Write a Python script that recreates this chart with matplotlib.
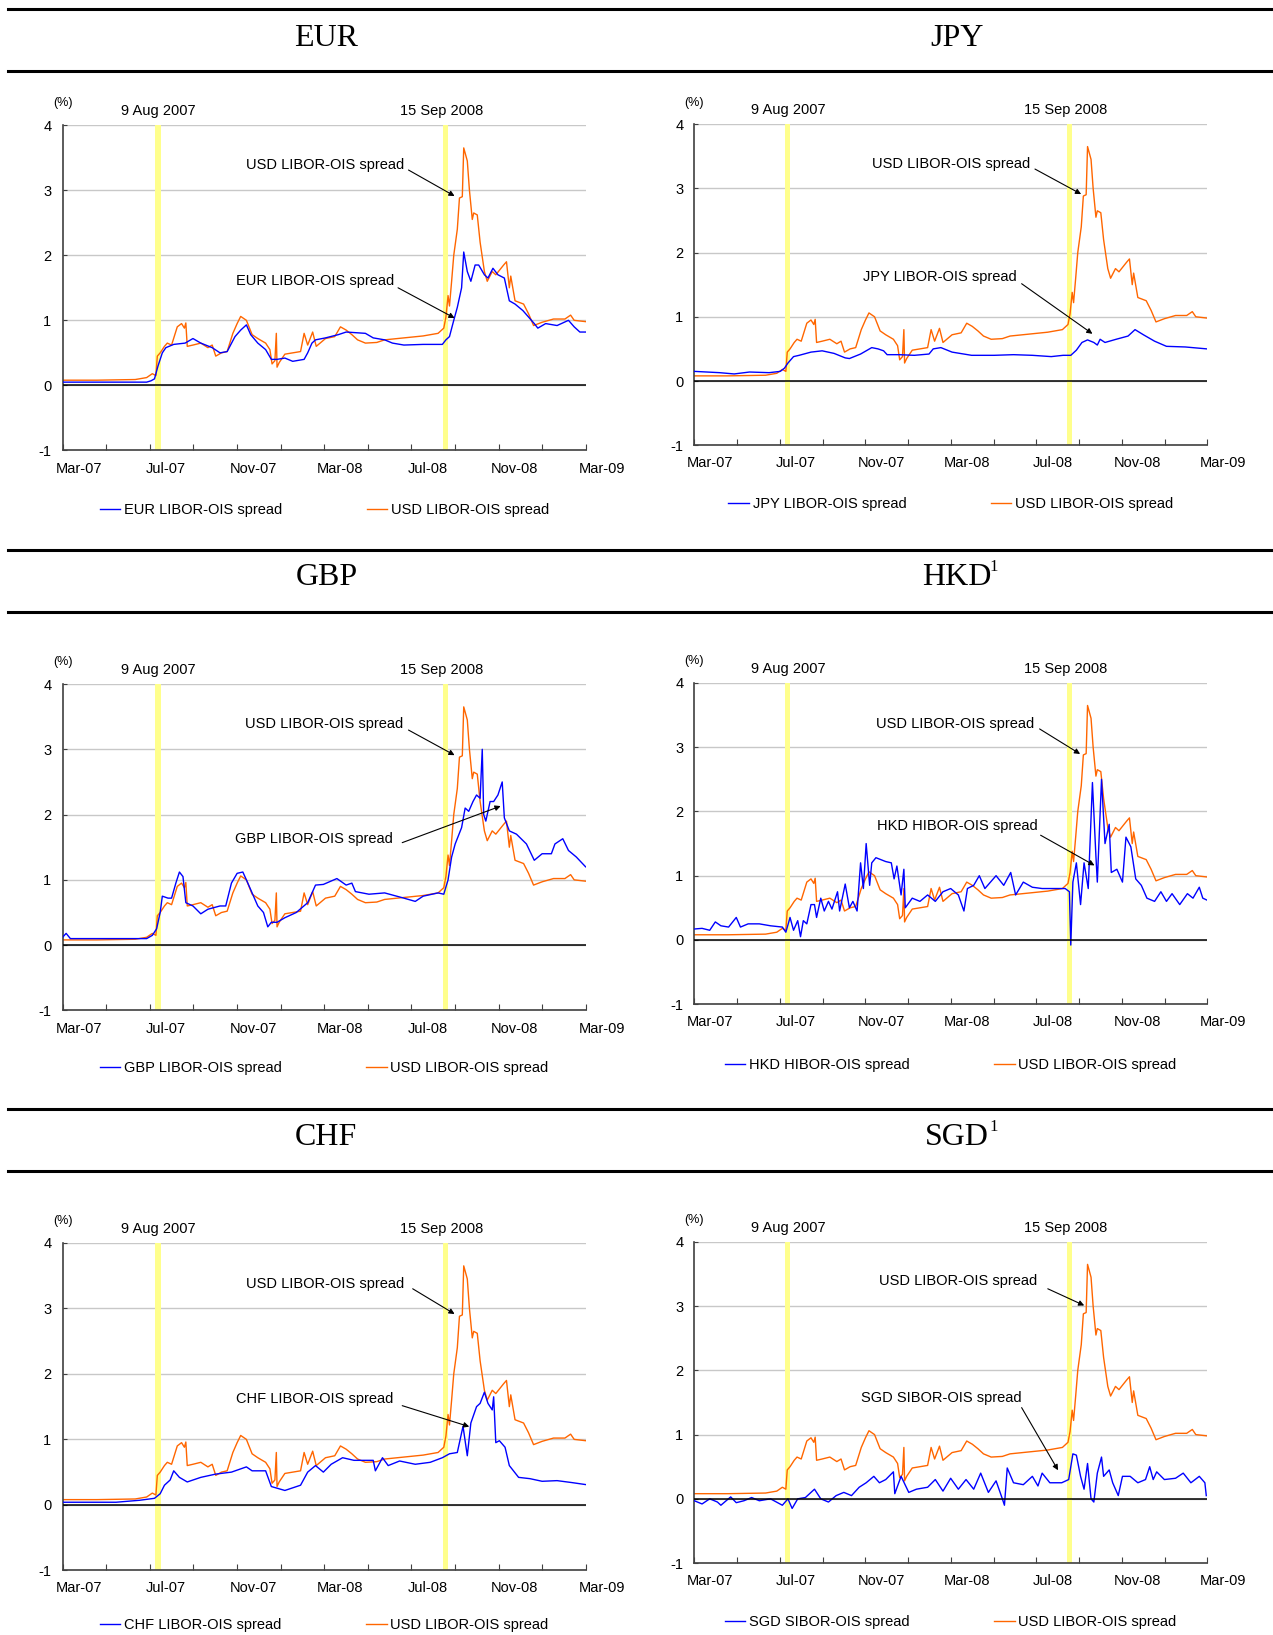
import matplotlib
matplotlib.use("Agg")
import matplotlib.pyplot as plt
import matplotlib.dates as mdates
import matplotlib.transforms as mtransforms
from matplotlib.lines import Line2D
import pandas as pd
import numpy as np

plt.rcParams['font.family'] = ['Liberation Sans', 'DejaVu Sans']

# ---------------- data ----------------
usd_dates = ["2007-03-28","2007-05-15","2007-07-08","2007-07-24","2007-08-01","2007-08-06","2007-08-08","2007-08-12",
             "2007-08-18","2007-08-22","2007-08-28","2007-09-05","2007-09-11","2007-09-15","2007-09-17","2007-09-19",
             "2007-09-27","2007-10-08","2007-10-18","2007-10-24","2007-10-29","2007-11-06","2007-11-14","2007-11-22",
             "2007-11-28","2007-12-03","2007-12-11","2007-12-19","2007-12-27","2008-01-07","2008-01-13","2008-01-16",
             "2008-01-20","2008-01-22","2008-01-23","2008-01-26","2008-02-03","2008-02-14","2008-02-25","2008-03-01",
             "2008-03-06","2008-03-13","2008-03-18","2008-03-31","2008-04-13","2008-04-21","2008-04-29","2008-05-07",
             "2008-05-15","2008-05-26","2008-06-11","2008-06-22","2008-07-19","2008-08-15","2008-09-05","2008-09-13",
             "2008-09-16","2008-09-19","2008-09-21","2008-09-24","2008-09-27","2008-10-02","2008-10-05","2008-10-09",
             "2008-10-11","2008-10-16","2008-10-19","2008-10-23","2008-10-25","2008-10-30","2008-11-03","2008-11-09",
             "2008-11-13","2008-11-20","2008-11-25","2008-12-06","2008-12-10","2008-12-14","2008-12-16","2008-12-22",
             "2009-01-03","2009-01-10","2009-01-17","2009-01-29","2009-02-14","2009-03-02","2009-03-10","2009-03-15",
             "2009-03-31"]
usd_vals = [0.08,0.08,0.09,0.12,0.18,0.15,0.45,0.50,
            0.60,0.65,0.62,0.90,0.95,0.88,0.96,0.60,
            0.62,0.65,0.58,0.62,0.45,0.50,0.52,0.80,
            0.95,1.06,1.00,0.78,0.72,0.65,0.55,0.33,
            0.38,0.80,0.28,0.35,0.48,0.50,0.52,0.80,
            0.62,0.82,0.60,0.72,0.75,0.90,0.85,0.78,
            0.70,0.65,0.66,0.70,0.73,0.76,0.80,0.88,
            1.05,1.38,1.22,1.60,2.00,2.40,2.88,2.90,
            3.65,3.45,3.00,2.55,2.65,2.62,2.20,1.75,
            1.60,1.75,1.70,1.85,1.90,1.50,1.68,1.30,
            1.25,1.10,0.92,0.97,1.02,1.02,1.08,1.00,
            0.98]

eur_dates = ["2007-03-28","2007-07-24","2007-07-30","2007-08-04","2007-08-09","2007-08-15","2007-08-20","2007-08-31",
             "2007-09-16","2007-09-27","2007-10-08","2007-10-24","2007-11-04","2007-11-14","2007-11-25","2007-12-03",
             "2007-12-11","2007-12-17","2007-12-27","2008-01-07","2008-01-15","2008-01-23","2008-02-03","2008-02-14",
             "2008-03-01","2008-03-06","2008-03-12","2008-03-17","2008-03-31","2008-04-18","2008-04-29","2008-05-26",
             "2008-06-06","2008-06-22","2008-07-03","2008-07-19","2008-08-15","2008-09-11","2008-09-16","2008-09-21",
             "2008-09-27","2008-10-02","2008-10-08","2008-10-11","2008-10-16","2008-10-21","2008-10-27","2008-11-01",
             "2008-11-09","2008-11-14","2008-11-21","2008-11-28","2008-12-07","2008-12-14","2008-12-22","2009-01-02",
             "2009-01-10","2009-01-18","2009-01-23","2009-02-03","2009-02-19","2009-03-07","2009-03-15","2009-03-23",
             "2009-03-31"]
eur_vals = [0.05,0.05,0.07,0.10,0.30,0.50,0.58,0.63,
            0.65,0.72,0.65,0.58,0.50,0.52,0.75,0.85,
            0.93,0.78,0.65,0.55,0.40,0.40,0.42,0.37,
            0.40,0.50,0.65,0.70,0.73,0.78,0.82,0.80,
            0.73,0.70,0.65,0.62,0.63,0.63,0.70,0.75,
            1.00,1.20,1.50,2.05,1.75,1.60,1.85,1.85,
            1.70,1.65,1.80,1.70,1.65,1.30,1.25,1.15,
            1.05,0.95,0.88,0.95,0.92,1.00,0.90,0.82,
            0.82]

jpy_dates = ["2007-03-28","2007-05-03","2007-05-24","2007-06-15","2007-07-13","2007-07-29","2007-08-04","2007-08-09",
             "2007-08-17","2007-08-25","2007-09-11","2007-09-27","2007-10-14","2007-10-30","2007-11-05","2007-11-21",
             "2007-12-07","2007-12-16","2007-12-24","2007-12-29","2008-01-15","2008-02-06","2008-02-27","2008-03-04",
             "2008-03-15","2008-03-31","2008-04-28","2008-05-30","2008-06-27","2008-07-24","2008-08-20","2008-09-06",
             "2008-09-17","2008-09-25","2008-10-03","2008-10-11","2008-10-20","2008-10-25","2008-10-29","2008-11-05",
             "2008-11-21","2008-12-08","2008-12-18","2008-12-30","2009-01-15","2009-02-01","2009-02-28","2009-03-31"]
jpy_vals = [0.15,0.13,0.11,0.14,0.13,0.15,0.20,0.28,
            0.38,0.40,0.45,0.47,0.43,0.36,0.35,0.42,
            0.52,0.50,0.47,0.41,0.41,0.40,0.42,0.50,
            0.52,0.45,0.40,0.40,0.41,0.40,0.38,0.40,
            0.40,0.48,0.60,0.64,0.60,0.56,0.65,0.60,
            0.65,0.70,0.80,0.72,0.62,0.54,0.53,0.50]

gbp_dates = ["2007-03-28","2007-04-02","2007-04-08","2007-06-11","2007-07-24","2007-08-01","2007-08-07","2007-08-12",
             "2007-08-15","2007-08-23","2007-08-28","2007-09-03","2007-09-08","2007-09-13","2007-09-17","2007-09-27",
             "2007-10-08","2007-10-18","2007-11-04","2007-11-12","2007-11-20","2007-11-28","2007-12-06","2007-12-11",
             "2007-12-19","2007-12-27","2008-01-04","2008-01-10","2008-01-15","2008-01-23","2008-02-03","2008-02-19",
             "2008-03-06","2008-03-17","2008-03-28","2008-04-16","2008-04-29","2008-05-07","2008-05-12","2008-05-31",
             "2008-06-22","2008-07-19","2008-08-04","2008-08-15","2008-09-05","2008-09-13","2008-09-19","2008-09-24",
             "2008-09-29","2008-10-08","2008-10-13","2008-10-18","2008-10-24","2008-10-29","2008-11-03","2008-11-06",
             "2008-11-08","2008-11-11","2008-11-17","2008-11-22","2008-11-28","2008-12-04","2008-12-07","2008-12-14",
             "2008-12-24","2009-01-07","2009-01-18","2009-01-29","2009-02-11","2009-02-16","2009-02-27","2009-03-07",
             "2009-03-18","2009-03-31"]
gbp_vals = [0.12,0.18,0.10,0.10,0.10,0.15,0.25,0.50,
            0.75,0.72,0.72,0.95,1.12,1.05,0.65,0.60,
            0.48,0.55,0.60,0.60,0.95,1.10,1.12,1.00,
            0.80,0.60,0.50,0.28,0.35,0.35,0.42,0.50,
            0.65,0.92,0.93,1.02,0.92,0.95,0.82,0.78,
            0.80,0.72,0.67,0.75,0.80,0.78,1.00,1.35,
            1.55,1.80,2.10,2.05,2.20,2.30,2.25,3.00,
            2.00,1.90,2.20,2.20,2.30,2.50,1.95,1.75,
            1.70,1.55,1.30,1.40,1.40,1.55,1.63,1.45,
            1.35,1.20]

hkd_dates = ["2007-03-28","2007-04-08","2007-04-19","2007-04-27","2007-05-05","2007-05-16","2007-05-27","2007-06-02",
             "2007-06-13","2007-06-29","2007-07-15","2007-08-01","2007-08-06","2007-08-12","2007-08-17","2007-08-23",
             "2007-08-27","2007-08-31","2007-09-05","2007-09-11","2007-09-16","2007-09-19","2007-09-25","2007-09-30",
             "2007-10-06","2007-10-11","2007-10-19","2007-10-22","2007-10-30","2007-11-05","2007-11-10","2007-11-16",
             "2007-11-21","2007-11-25","2007-11-29","2007-12-04","2007-12-07","2007-12-13","2007-12-27","2008-01-04",
             "2008-01-08","2008-01-12","2008-01-18","2008-01-22","2008-01-24","2008-02-03","2008-02-14","2008-02-25",
             "2008-03-07","2008-03-18","2008-03-29","2008-04-09","2008-04-17","2008-04-22","2008-05-01","2008-05-09",
             "2008-05-17","2008-06-02","2008-06-13","2008-06-23","2008-06-30","2008-07-11","2008-07-24","2008-08-07",
             "2008-08-23","2008-09-09","2008-09-15","2008-09-17","2008-09-20","2008-09-25","2008-10-01","2008-10-06",
             "2008-10-12","2008-10-18","2008-10-23","2008-10-25","2008-10-31","2008-11-05","2008-11-11","2008-11-14",
             "2008-11-22","2008-11-30","2008-12-05","2008-12-12","2008-12-19","2008-12-27","2009-01-04","2009-01-15",
             "2009-01-24","2009-02-01","2009-02-09","2009-02-20","2009-03-03","2009-03-11","2009-03-20","2009-03-25",
             "2009-03-31"]
hkd_vals = [0.17,0.18,0.15,0.28,0.22,0.20,0.35,0.20,
            0.25,0.25,0.22,0.20,0.12,0.35,0.15,0.30,
            0.05,0.30,0.25,0.55,0.55,0.35,0.65,0.45,
            0.60,0.48,0.75,0.45,0.87,0.50,0.60,0.45,
            1.20,0.80,1.50,0.85,1.20,1.28,1.22,1.20,
            0.95,1.15,0.70,1.10,0.50,0.65,0.60,0.70,
            0.60,0.75,0.80,0.70,0.45,0.80,0.85,1.00,
            0.80,1.00,0.85,1.05,0.70,0.90,0.82,0.80,
            0.80,0.80,0.75,-0.08,0.90,1.20,0.55,1.20,
            0.80,2.45,1.30,0.90,2.50,1.50,1.80,1.05,
            1.10,0.90,1.60,1.45,0.95,0.85,0.65,0.60,
            0.75,0.60,0.72,0.55,0.72,0.65,0.82,0.65,
            0.62]

chf_dates = ["2007-03-28","2007-06-11","2007-07-14","2007-08-04","2007-08-12","2007-08-18","2007-08-26","2007-08-31",
             "2007-09-08","2007-09-19","2007-10-08","2007-10-29","2007-11-20","2007-12-11","2007-12-19","2008-01-07",
             "2008-01-15","2008-02-03","2008-02-25","2008-03-06","2008-03-17","2008-03-28","2008-04-08","2008-04-24",
             "2008-05-10","2008-06-06","2008-06-09","2008-06-19","2008-06-27","2008-07-13","2008-08-04","2008-08-25",
             "2008-09-11","2008-09-21","2008-10-02","2008-10-10","2008-10-16","2008-10-21","2008-10-29","2008-11-03",
             "2008-11-09","2008-11-14","2008-11-20","2008-11-22","2008-11-25","2008-11-30","2008-12-08","2008-12-14",
             "2008-12-27","2009-01-12","2009-01-29","2009-02-19","2009-03-12","2009-03-31"]
chf_vals = [0.04,0.04,0.07,0.10,0.17,0.30,0.38,0.52,
            0.42,0.35,0.42,0.47,0.50,0.58,0.52,0.52,
            0.28,0.22,0.30,0.50,0.60,0.50,0.62,0.72,
            0.68,0.68,0.52,0.72,0.60,0.67,0.62,0.65,
            0.72,0.78,0.80,1.20,0.75,1.25,1.50,1.55,
            1.72,1.55,1.45,1.65,0.95,0.98,0.88,0.60,
            0.42,0.40,0.36,0.37,0.34,0.31]

sgd_dates = ["2007-03-28","2007-04-08","2007-04-19","2007-04-30","2007-05-05","2007-05-19","2007-05-27","2007-06-07",
             "2007-06-18","2007-06-29","2007-07-15","2007-08-01","2007-08-09","2007-08-15","2007-08-23","2007-09-03",
             "2007-09-16","2007-09-25","2007-10-06","2007-10-17","2007-10-28","2007-11-08","2007-11-19","2007-11-29",
             "2007-12-10","2007-12-18","2007-12-27","2008-01-07","2008-01-09","2008-01-18","2008-01-29","2008-02-09",
             "2008-02-25","2008-03-07","2008-03-18","2008-03-29","2008-04-09","2008-04-20","2008-05-01","2008-05-11",
             "2008-05-22","2008-06-02","2008-06-11","2008-06-14","2008-06-18","2008-06-27","2008-07-11","2008-07-24",
             "2008-08-01","2008-08-07","2008-08-18","2008-09-04","2008-09-14","2008-09-20","2008-09-25","2008-10-01",
             "2008-10-06","2008-10-11","2008-10-16","2008-10-20","2008-10-25","2008-10-31","2008-11-03","2008-11-11",
             "2008-11-16","2008-11-24","2008-11-30","2008-12-11","2008-12-22","2009-01-02","2009-01-08","2009-01-13",
             "2009-01-18","2009-01-29","2009-02-14","2009-02-25","2009-03-08","2009-03-20","2009-03-28","2009-03-30"]
sgd_vals = [-0.03,-0.08,0.00,-0.05,-0.10,0.03,-0.06,-0.03,
            0.02,-0.03,0.00,-0.10,0.00,-0.15,0.00,0.02,
            0.15,0.00,-0.05,0.05,0.10,0.05,0.18,0.25,
            0.35,0.25,0.30,0.42,0.08,0.35,0.10,0.15,
            0.18,0.30,0.12,0.32,0.15,0.30,0.15,0.40,
            0.10,0.28,0.00,-0.10,0.48,0.25,0.22,0.35,
            0.20,0.40,0.25,0.25,0.30,0.70,0.68,0.35,
            0.15,0.55,0.00,-0.05,0.40,0.65,0.35,0.45,
            0.25,0.05,0.35,0.35,0.25,0.30,0.50,0.30,
            0.42,0.30,0.32,0.40,0.25,0.35,0.25,0.05]

panels = [
    ("EUR", "", "EUR LIBOR-OIS spread", eur_dates, eur_vals),
    ("JPY", "", "JPY LIBOR-OIS spread", jpy_dates, jpy_vals),
    ("GBP", "", "GBP LIBOR-OIS spread", gbp_dates, gbp_vals),
    ("HKD", "1", "HKD HIBOR-OIS spread", hkd_dates, hkd_vals),
    ("CHF", "", "CHF LIBOR-OIS spread", chf_dates, chf_vals),
    ("SGD", "1", "SGD SIBOR-OIS spread", sgd_dates, sgd_vals),
]
usd_label = "USD LIBOR-OIS spread"
event_dates = ["2007-08-09", "2008-09-15"]
event_labels = ["9 Aug 2007", "15 Sep 2008"]
month_labels = ["Mar-07", "Jul-07", "Nov-07", "Mar-08", "Jul-08", "Nov-08", "Mar-09"]
yticks = [-1, 0, 1, 2, 3, 4]

# ---------------- layout ----------------
W, H = 1221.0, 1568.0
fig = plt.figure(figsize=(12.73, 16.35), dpi=100)

def fx(x): return x / W
def fy(y): return 1 - y / H

axes_px = [  # left, top(y of 4), right, bottom(y of -1)
    (60, 120, 562, 432),
    (666, 119, 1158, 427),
    (60, 656, 562, 969),
    (666, 655, 1158, 963),
    (60, 1192, 562, 1506),
    (666, 1191, 1158, 1499),
]
title_pos = [(313, 37), (918, 37), (313, 554), (918, 554), (313, 1091), (918, 1091)]
legend_y = [-0.183, -0.182, -0.176, -0.19, -0.166, -0.185]
# annotation layout: (usd text xy, usd arrow start, usd arrow end, own text xy, own arrow start, own arrow end)
ann = [
    ((0.653, 0.878), (0.661, 0.862), (0.749, 0.782), (0.633, 0.522), (0.641, 0.500), (0.749, 0.407)),
    ((0.654, 0.877), (0.664, 0.860), (0.754, 0.782), (0.628, 0.523), (0.638, 0.503), (0.776, 0.347)),
    ((0.651, 0.879), (0.661, 0.859), (0.749, 0.782), (0.631, 0.524), (0.649, 0.514), (0.837, 0.626)),
    ((0.663, 0.873), (0.673, 0.857), (0.752, 0.779), (0.669, 0.555), (0.675, 0.526), (0.780, 0.432)),
    ((0.653, 0.876), (0.669, 0.860), (0.749, 0.783), (0.633, 0.522), (0.649, 0.503), (0.777, 0.439)),
    ((0.669, 0.877), (0.689, 0.854), (0.760, 0.802), (0.638, 0.513), (0.638, 0.484), (0.709, 0.289)),
]

# horizontal rules
for yy in [9, 68, 527, 587, 1064, 1123]:
    fig.add_artist(Line2D([fx(8), fx(1221)], [fy(yy), fy(yy)], color='black', lw=2.2,
                          transform=fig.transFigure))

x0 = mdates.date2num(pd.Timestamp("2007-03-28"))
x1 = x0 + 734.5
usd_x = pd.to_datetime(usd_dates)

BLUE = '#0000ff'
ORANGE = '#ff6600'
label_shift = mtransforms.ScaledTranslation(0.16, 0, fig.dpi_scale_trans)

for i, (cur, sup, lab, dts, vals) in enumerate(panels):
    l, t, r, b = axes_px[i]
    ax = fig.add_axes([fx(l), fy(b), (r - l) / W, (b - t) / H])
    tx, ty = title_pos[i]
    fig.text(fx(tx), fy(ty), cur, ha='center', va='center', fontsize=23,
             family=['Liberation Serif', 'DejaVu Serif'])
    if sup:
        fig.text(fx(tx + 31.5), fy(ty - 10), sup, ha='left', va='center', fontsize=12,
                 family=['Liberation Serif', 'DejaVu Serif'])

    for d in event_dates:
        c = mdates.date2num(pd.Timestamp(d))
        ax.axvspan(c - 3.6, c + 3.6, color='#ffff8c', lw=0, zorder=1)

    ax.plot(pd.to_datetime(dts), vals, color=BLUE, lw=1.0, zorder=3, label=lab)
    ax.plot(usd_x, usd_vals, color=ORANGE, lw=1.0, zorder=2, label=usd_label)
    ax.axhline(0, color='black', lw=1.1, zorder=4)

    majors = np.linspace(x0, x1, 13)
    ax.set_xticks(majors)
    ax.set_xticklabels([month_labels[k // 2] if k % 2 == 0 else '' for k in range(13)])
    ax.set_xlim(x0, x1)
    ax.set_ylim(-1, 4)
    ax.set_yticks(yticks)
    ax.set_yticklabels([str(v) for v in yticks])
    ax.yaxis.grid(True, color='#c8c8c8', lw=1.0, zorder=0)
    ax.set_axisbelow(True)
    for s in ['top', 'right']:
        ax.spines[s].set_visible(False)
    for s in ['left', 'bottom']:
        ax.spines[s].set_color('#404040')
        ax.spines[s].set_linewidth(1.2)

    ax.tick_params(axis='x', which='major', direction='in', length=4, color='#404040',
                   pad=8, labelsize=10.5)
    ax.tick_params(axis='y', direction='in', length=3, pad=8, labelsize=10.5, color='#404040')
    for lbl in ax.xaxis.get_majorticklabels():
        lbl.set_transform(lbl.get_transform() + label_shift)

    ax.text(0.0, 1.067, '(%)', transform=ax.transAxes, ha='center', va='center', fontsize=9)
    for k, (d, txt) in enumerate(zip(event_dates, event_labels)):
        c = mdates.date2num(pd.Timestamp(d)) - (0 if k == 0 else 5)
        ax.text(c, 4.22, txt, ha='center', va='center', fontsize=10.5, clip_on=False)

    ut, us, ue, ot, os_, oe = ann[i]
    ax.text(ut[0], ut[1], usd_label, transform=ax.transAxes, ha='right', va='center', fontsize=10.5)
    ax.annotate('', xy=ue, xycoords='axes fraction', xytext=us, textcoords='axes fraction',
                arrowprops=dict(arrowstyle='-|>', color='black', lw=0.8, mutation_scale=8,
                                shrinkA=0, shrinkB=0))
    ax.text(ot[0], ot[1], lab, transform=ax.transAxes, ha='right', va='center', fontsize=10.5)
    ax.annotate('', xy=oe, xycoords='axes fraction', xytext=os_, textcoords='axes fraction',
                arrowprops=dict(arrowstyle='-|>', color='black', lw=0.8, mutation_scale=8,
                                shrinkA=0, shrinkB=0))

    ax.legend(loc='center', bbox_to_anchor=(0.5, legend_y[i]), ncol=2, frameon=False,
              fontsize=10.5, handlelength=1.4, handletextpad=0.25, columnspacing=5.8)

fig.savefig('out.png', dpi=100)
